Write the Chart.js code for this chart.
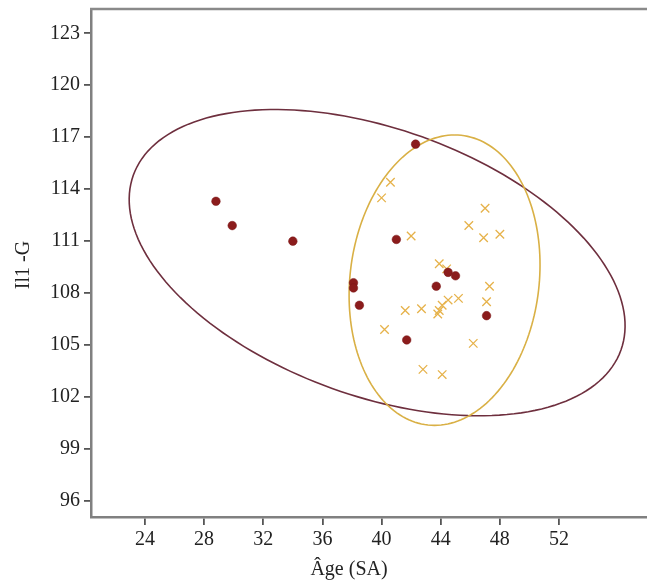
<!DOCTYPE html>
<html>
<head>
<meta charset="utf-8">
<script src="https://cdn.jsdelivr.net/npm/chart.js@4/dist/chart.umd.min.js"></script>
<style>
    body { margin: 0; background: #fff; }
    canvas { display: block; }
</style>
</head>
<body>
<canvas id="canvas" width="647" height="585"></canvas>
<script>
// data
var redAge = [28.8, 29.9, 34.0, 42.3, 41.0, 38.1, 38.1, 38.5, 43.7, 44.5, 45.0, 41.7, 47.1];
var redIl1 = [113.3, 111.9, 111.0, 116.6, 111.1, 108.6, 108.3, 107.3, 108.4, 109.2, 109.0, 105.3, 106.7];

var goldAge = [40.6, 40.0, 42.0, 47.0, 45.9, 46.9, 48.0, 43.9, 44.4, 47.3, 47.1, 41.6, 42.7,
    43.9, 43.8, 44.1, 44.5, 45.2, 40.2, 46.2, 42.8, 44.1];
var goldIl1 = [114.4, 113.5, 111.3, 112.9, 111.9, 111.2, 111.4, 109.7, 109.4, 108.4, 107.5, 107.0, 107.1,
    107.0, 106.8, 107.3, 107.6, 107.7, 105.9, 105.1, 103.6, 103.3];

var xTicks = [24, 28, 32, 36, 40, 44, 48, 52];
var yTicks = [96, 99, 102, 105, 108, 111, 114, 117, 120, 123];

// confidence ellipses: centre and two half-axis vectors, in data units
var ellipseCentres = [[39.7, 109.76], [44.26, 108.75]];
var ellipseAxisU = [[16.49, -5.04], [0.68, 8.38]];
var ellipseAxisV = [[-3.04, -7.26], [6.42, 0]];
var ellipseColours = ['#6e2f3e', '#d9b045'];

var serif = "'Liberation Serif', 'Times New Roman', serif";

var toPoints = function (xs, ys) {
    return xs.map(function (x, i) {
        return {x: x, y: ys[i]};
    });
};

var ellipsePlugin = {
    id: 'ellipses',
    beforeDatasetsDraw: function (chart) {
        var ctx = chart.ctx;
        var xs = chart.scales.x, ys = chart.scales.y;
        ctx.save();
        ellipseCentres.forEach(function (c, k) {
            var u = ellipseAxisU[k], v = ellipseAxisV[k];
            ctx.beginPath();
            for (var i = 0; i <= 180; i++) {
                var t = i / 180 * Math.PI * 2;
                var px = xs.getPixelForValue(c[0] + Math.cos(t) * u[0] + Math.sin(t) * v[0]);
                var py = ys.getPixelForValue(c[1] + Math.cos(t) * u[1] + Math.sin(t) * v[1]);
                if (i === 0) ctx.moveTo(px, py); else ctx.lineTo(px, py);
            }
            ctx.strokeStyle = ellipseColours[k];
            ctx.lineWidth = 1.6;
            ctx.stroke();
        });
        ctx.restore();
    }
};

// top frame line and the two axis titles
var framePlugin = {
    id: 'frame',
    afterDraw: function (chart) {
        var ctx = chart.ctx, area = chart.chartArea;
        ctx.save();
        ctx.strokeStyle = '#8a8a8a';
        ctx.lineWidth = 2.5;
        ctx.beginPath();
        ctx.moveTo(area.left - 1, area.top);
        ctx.lineTo(area.right, area.top);
        ctx.stroke();

        ctx.fillStyle = '#222';
        ctx.font = '20px ' + serif;
        ctx.textAlign = 'center';
        ctx.textBaseline = 'middle';
        ctx.fillText('Âge (SA)', 349, 570);

        ctx.translate(24, 265);
        ctx.rotate(-Math.PI / 2);
        ctx.fillText('Il1 -G', 0, 0);
        ctx.restore();
    }
};

var noPadding = function (scale) {
    scale.paddingLeft = 0;
    scale.paddingRight = 0;
    scale.paddingTop = 0;
    scale.paddingBottom = 0;
};

var config = {type: 'scatter'};
config.data = {
    datasets: [
        {
            data: toPoints(redAge, redIl1),
            pointStyle: 'circle',
            pointRadius: 4.3,
            backgroundColor: '#8b1c1c',
            borderColor: '#7a1717',
            borderWidth: 0.5
        },
        {
            data: toPoints(goldAge, goldIl1),
            pointStyle: 'crossRot',
            pointRadius: 6,
            borderColor: '#e6b24a',
            borderWidth: 1.3
        }
    ]
};
config.options = {
    responsive: false,
    animation: false,
    devicePixelRatio: 1,
    layout: {autoPadding: false, padding: {top: 9, right: 0, bottom: 0, left: 0}},
    plugins: {
        legend: {display: false},
        tooltip: {enabled: false}
    },
    scales: {
        x: {
            type: 'linear',
            position: 'bottom',
            min: 20.35,
            max: 57.95,
            afterFit: function (scale) {
                scale.height = 68;
                noPadding(scale);
            },
            afterBuildTicks: function (scale) {
                scale.ticks = xTicks.map(function (v) { return {value: v}; });
            },
            grid: {drawOnChartArea: false, tickLength: 8, color: '#555', lineWidth: 1.8},
            border: {color: '#808080', width: 2.5},
            ticks: {
                padding: 3,
                color: '#222',
                maxRotation: 0,
                autoSkip: false,
                font: {family: serif, size: 20}
            }
        },
        y: {
            type: 'linear',
            min: 95.08,
            max: 124.4,
            afterFit: function (scale) {
                scale.width = 91;
                noPadding(scale);
            },
            afterBuildTicks: function (scale) {
                scale.ticks = yTicks.map(function (v) { return {value: v}; });
            },
            grid: {drawOnChartArea: false, tickLength: 7, color: '#555', lineWidth: 1.8},
            border: {color: '#808080', width: 2.5},
            ticks: {
                padding: 4,
                color: '#222',
                autoSkip: false,
                font: {family: serif, size: 20}
            }
        }
    }
};
config.plugins = [ellipsePlugin, framePlugin];

var chart = new Chart(document.getElementById('canvas'), config);
</script>
</body>
</html>
